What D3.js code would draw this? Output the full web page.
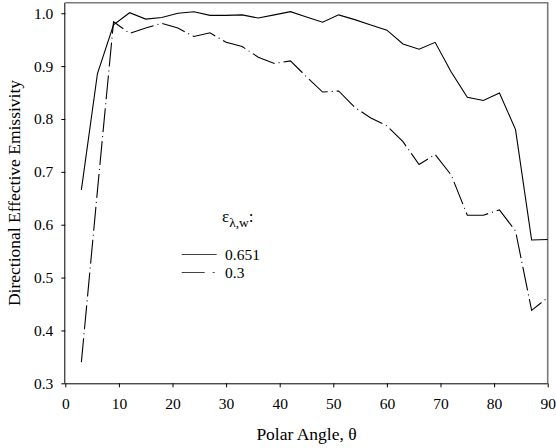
<!DOCTYPE html>
<html>
<head>
<meta charset="utf-8">
<script src="https://cdn.jsdelivr.net/npm/d3@7"></script>
<style>
  body { margin: 0; background: #fff; }
</style>
</head>
<body>
<svg id="chart"></svg>
<script>
// polar angle (deg)
const angles = [3, 6, 9, 12, 15, 18, 21, 24, 27, 30, 33, 36, 39, 42, 45,
                48, 51, 54, 57, 60, 63, 66, 69, 72, 75, 78, 81, 84, 87, 90];

// emissivity of the wall = 0.651
const emis651 = [0.666, 0.886, 0.978, 1.001, 0.989, 0.992, 1.000, 1.003, 0.996, 0.996,
                 0.997, 0.991, 0.997, 1.003, 0.993, 0.983, 0.997, 0.988, 0.978, 0.968,
                 0.942, 0.932, 0.945, 0.889, 0.841, 0.835, 0.849, 0.780, 0.571, 0.572];

// emissivity of the wall = 0.3
const emis03 = [0.340, 0.665, 0.984, 0.962, 0.972, 0.981, 0.972, 0.956, 0.963, 0.945,
                0.937, 0.917, 0.905, 0.910, 0.880, 0.851, 0.853, 0.822, 0.802, 0.787,
                0.757, 0.714, 0.733, 0.694, 0.618, 0.618, 0.628, 0.588, 0.438, 0.462];

const xTicks = [0, 10, 20, 30, 40, 50, 60, 70, 80, 90];
const yTicks = [0.3, 0.4, 0.5, 0.6, 0.7, 0.8, 0.9, 1.0];
const legendLabels = ['0.651', '0.3'];

const serif = '"Liberation Serif"';
const width = 556, height = 448;
const margin = {top: 2.7, right: 8.3, bottom: 64.7, left: 65.3};
const w = width - margin.left - margin.right;
const h = height - margin.top - margin.bottom;

const svg = d3.select('#chart')
    .attr('width', width)
    .attr('height', height);

const chart = svg.append('g')
    .attr('transform', `translate(${margin.left},${margin.top})`);

const xScale = d3.scaleLinear().domain([0, 90]).range([0, w]);
const yScale = d3.scaleLinear().domain([0.3, 1.02]).range([h, 0]);

// frame on top and right
chart.append('path')
    .attr('d', `M0,0H${w}V${h}`)
    .attr('fill', 'none')
    .attr('stroke', '#7a7a7a')
    .attr('stroke-width', 1.6);

const xAxis = d3.axisBottom(xScale)
    .tickValues(xTicks)
    .tickFormat(d3.format('d'))
    .tickSize(4)
    .tickSizeOuter(0)
    .tickPadding(11);

const yAxis = d3.axisLeft(yScale)
    .tickValues(yTicks)
    .tickFormat(d3.format('.1f'))
    .tickSize(4)
    .tickSizeOuter(0)
    .tickPadding(8);

const styleAxis = g => {
  g.selectAll('text')
      .style('font-family', serif)
      .style('font-size', '15.5px')
      .attr('fill', '#000');
  g.selectAll('line').attr('stroke', '#000');
};

chart.append('g')
    .attr('class', 'axis x-axis')
    .attr('transform', `translate(0,${h})`)
    .call(xAxis)
    .call(styleAxis)
    .call(g => g.select('.domain').attr('d', `M0,0.5H${w}`).attr('stroke', '#000'));

chart.append('g')
    .attr('class', 'axis y-axis')
    .call(yAxis)
    .call(styleAxis)
    .call(g => g.select('.domain').attr('d', `M-0.5,0V${h}`).attr('stroke', '#000'));

// lines
const line = d3.line()
    .x(d => xScale(d[0]))
    .y(d => yScale(d[1]));

const series = [
  {values: emis651, dash: null},
  {values: emis03, dash: '24,4,1,4'}
];

chart.selectAll('.series')
    .data(series)
    .join('path')
    .attr('class', 'series')
    .attr('d', s => line(angles.map((a, i) => [a, s.values[i]])))
    .attr('fill', 'none')
    .attr('stroke', '#000')
    .attr('stroke-width', 1.1)
    .attr('stroke-dasharray', s => s.dash);

// axis titles
svg.append('text')
    .attr('x', margin.left + w / 2)
    .attr('y', 440)
    .attr('text-anchor', 'middle')
    .style('font-family', serif)
    .style('font-size', '17.5px')
    .text('Polar Angle, θ');

svg.append('text')
    .attr('transform', `translate(20,${margin.top + h / 2}) rotate(-90)`)
    .attr('text-anchor', 'middle')
    .style('font-family', serif)
    .style('font-size', '17.5px')
    .text('Directional Effective Emissivity');

// legend
const legend = svg.append('g');

const title = legend.append('text')
    .attr('x', 222)
    .attr('y', 221.7)
    .style('font-family', serif)
    .style('font-size', '17px');
title.append('tspan').text('ε');
title.append('tspan').style('font-size', '13.5px').attr('dy', 5.5).text('λ,w');
title.append('tspan').attr('dy', -5.5).text(':');

const legendY = [254.5, 272.5];
legend.selectAll('.leg-line')
    .data(series)
    .join('line')
    .attr('class', 'leg-line')
    .attr('x1', 181.7)
    .attr('x2', 216.7)
    .attr('y1', (d, i) => legendY[i])
    .attr('y2', (d, i) => legendY[i])
    .attr('stroke', '#444')
    .attr('stroke-width', 1)
    .attr('stroke-dasharray', (d, i) => i === 1 ? '23,8,2,20' : null);

legend.selectAll('.leg-text')
    .data(legendLabels)
    .join('text')
    .attr('class', 'leg-text')
    .attr('x', 225)
    .attr('y', (d, i) => legendY[i] + 5)
    .style('font-family', serif)
    .style('font-size', '15.5px')
    .text(d => d);
</script>
</body>
</html>
